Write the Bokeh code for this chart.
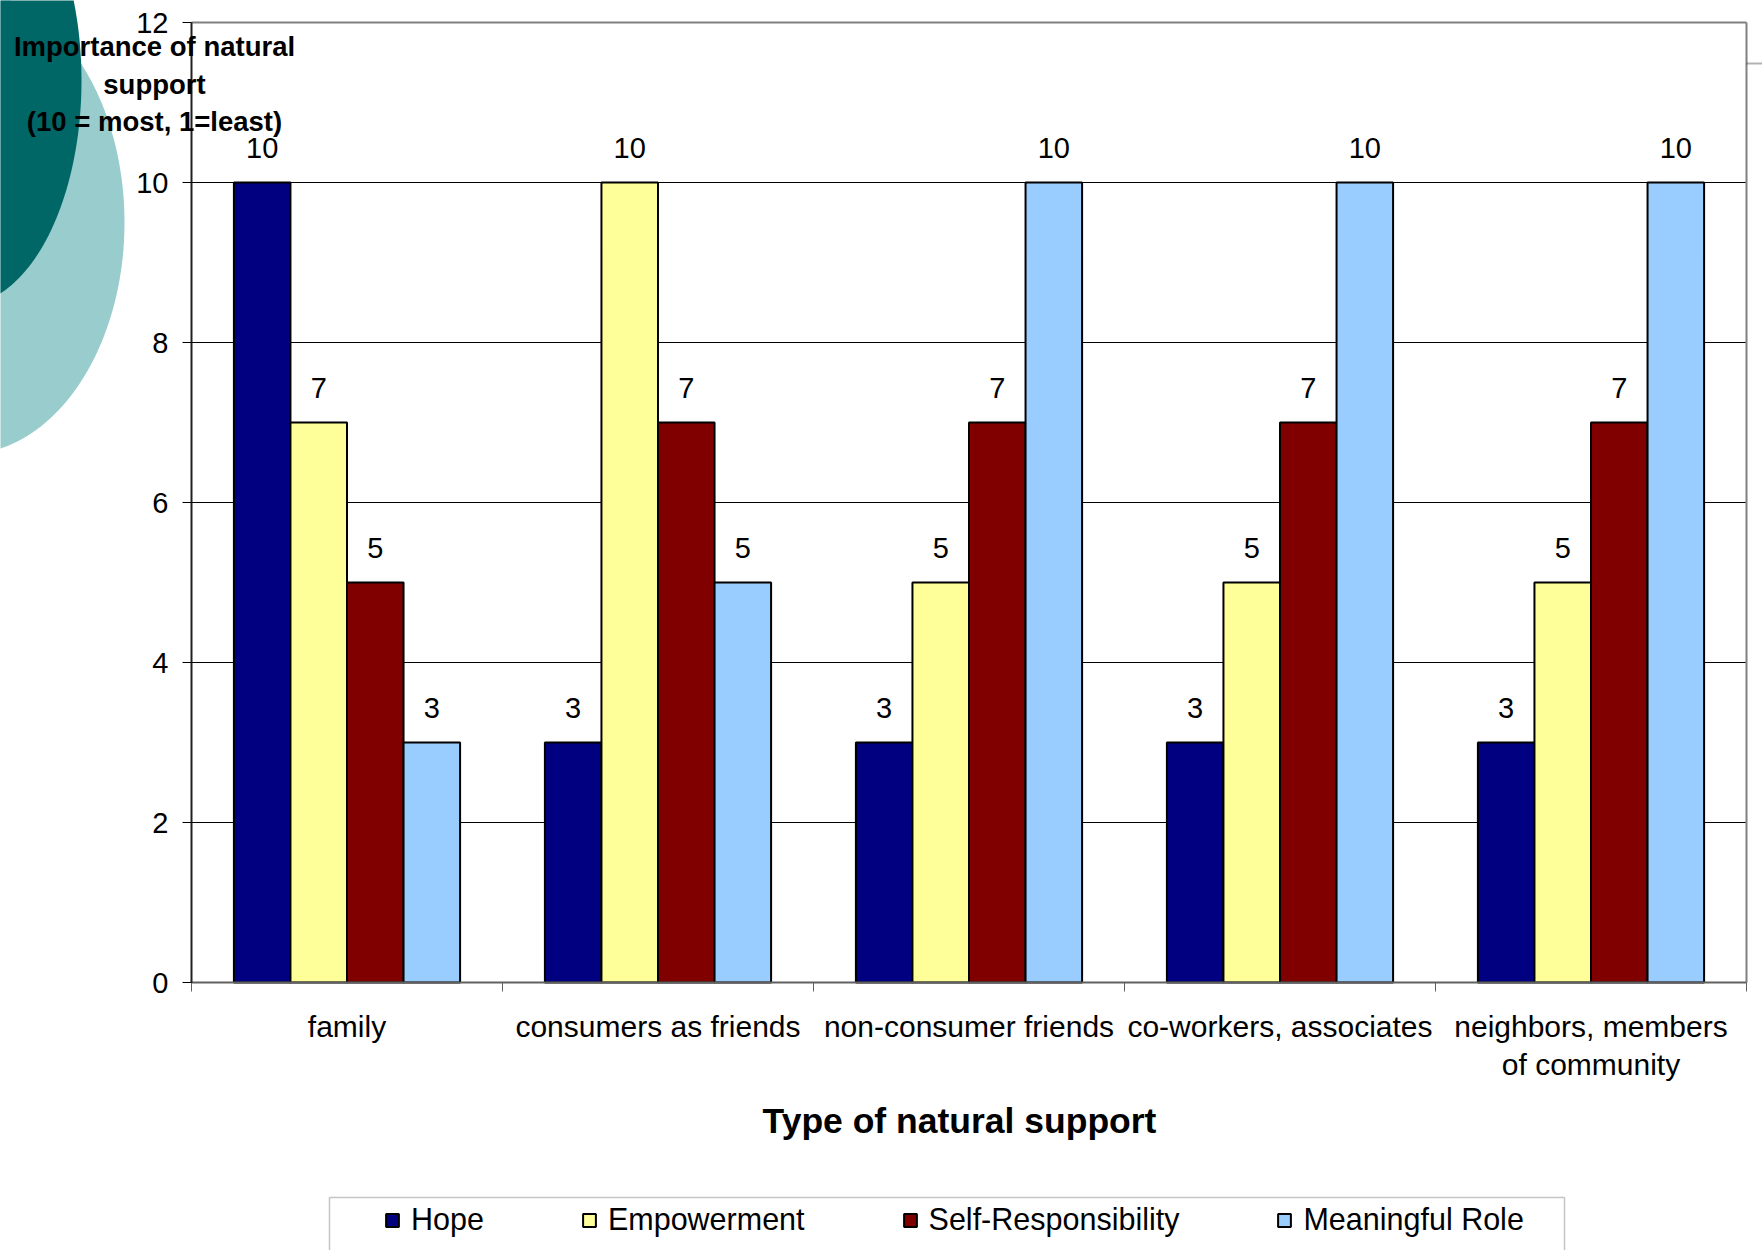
import numpy as np
from bokeh.plotting import figure
from bokeh.models import (Range1d, FixedTicker, ColumnDataSource, Label, Legend,
                          LegendItem, PolyAnnotation)
from bokeh.transform import dodge
from bokeh.core.properties import value
from bokeh.embed import file_html
from bokeh.resources import INLINE

# ---------------- data ----------------
categories = ["family", "consumers as friends", "non-consumer friends",
              "co-workers, associates", "neighbors, members\nof community"]
series = ["Hope", "Empowerment", "Self-Responsibility", "Meaningful Role"]
hope = [10, 3, 3, 3, 3]
empowerment = [7, 10, 5, 5, 5]
self_responsibility = [5, 7, 7, 7, 7]
meaningful_role = [3, 5, 10, 10, 10]
y_ticks = [0, 2, 4, 6, 8, 10, 12]
colors = ["#000080", "#FFFF99", "#800000", "#99CCFF"]

FONT = "Liberation Sans"
W, H = 1762, 1250
L, R, T, B = 191, 16, 22, 268          # plot-area margins inside the canvas
n = len(categories)
YMAX = 12
PXU = (W - L - R) / n
PYU = (H - T - B) / YMAX

# frame covers the whole canvas; axes are pinned at x=0 / y=0
p = figure(width=W, height=H,
           x_range=Range1d(-L / PXU, n + R / PXU),
           y_range=Range1d(-B / PYU, YMAX + T / PYU),
           output_backend="svg", toolbar_location=None, title=None,
           min_border=0, min_border_left=0, min_border_right=0,
           min_border_top=0, min_border_bottom=0)
p.background_fill_color = "white"
p.border_fill_color = "white"
p.outline_line_color = None

def dx(px):
    return (np.asarray(px, dtype=float) - L) / PXU
def dy(py):
    return ((H - B) - np.asarray(py, dtype=float)) / PYU

# decorative ovals (slide background)
def oval(cx, cy, a, b, color):
    t = np.linspace(0, 2 * np.pi, 200)
    xs = dx(cx + a * np.cos(t)).tolist()
    ys = dy(cy + b * np.sin(t)).tolist()
    p.add_layout(PolyAnnotation(xs=xs, ys=ys, fill_color=color, fill_alpha=1,
                                line_color=None, level="underlay"))
oval(-36, 222, 160, 232, "#99CCCC")
oval(-39, 80, 120, 225, "#006666")

# ---------------- gridlines & plot-area border ----------------
grid_y = [t for t in y_ticks if 0 < t < YMAX]
p.segment(x0=[0] * len(grid_y), x1=[n] * len(grid_y), y0=grid_y, y1=grid_y,
          line_color="black", line_width=1)
p.segment(x0=[0, n], x1=[n, n], y0=[YMAX, 0], y1=[YMAX, YMAX],
          line_color="#808080", line_width=2)

# ---------------- bars ----------------
x_centers = [i + 0.5 for i in range(n)]
data = dict(x=x_centers)
values = [hope, empowerment, self_responsibility, meaningful_role]
for s, v in zip(series, values):
    data[s] = v
    data[s + "_lbl"] = [str(k) for k in v]
src = ColumnDataSource(data)

bw = 1 / 5.5
offsets = [-1.5 * bw, -0.5 * bw, 0.5 * bw, 1.5 * bw]
renderers = []
for s, c, off in zip(series, colors, offsets):
    r = p.vbar(x=dodge("x", off, range=p.x_range), top=s, width=bw, source=src,
               fill_color=c, line_color="black", line_width=2)
    renderers.append(r)
    p.text(x=dodge("x", off, range=p.x_range), y=s, text=s + "_lbl", source=src,
           text_align="center", text_baseline="bottom", y_offset=-25,
           text_font=value(FONT), text_font_size="29px", text_color="black")

# ---------------- axes ----------------
xa = p.xaxis[0]
xa.fixed_location = 0
xa.bounds = (0, n)
xa.ticker = FixedTicker(ticks=x_centers, minor_ticks=list(range(n + 1)))
xa.major_label_overrides = {x: c for x, c in zip(x_centers, categories)}
xa.major_tick_out = 0
xa.major_tick_in = 0
xa.minor_tick_out = 9
xa.minor_tick_in = 0
xa.minor_tick_line_color = "#606060"
xa.axis_line_color = "#606060"
xa.axis_line_width = 2
xa.major_label_standoff = 18
xa.major_label_text_font = FONT
xa.major_label_text_font_size = "30px"
xa.major_label_text_color = "black"
xa.major_label_text_line_height = 1.18

ya = p.yaxis[0]
ya.fixed_location = 0
ya.bounds = (0, YMAX)
ya.ticker = FixedTicker(ticks=y_ticks, minor_ticks=[])
ya.major_tick_out = 9
ya.major_tick_in = 0
ya.major_tick_line_color = "black"
ya.axis_line_color = "#202020"
ya.axis_line_width = 2
ya.major_label_standoff = 14
ya.major_label_text_font = FONT
ya.major_label_text_font_size = "29px"
ya.major_label_text_color = "black"

p.xgrid.visible = False
p.ygrid.visible = False

# ---------------- titles ----------------
ytitle = ["Importance of natural", "support", "(10 = most, 1=least)"]
for i, line in enumerate(ytitle):
    p.add_layout(Label(x=float(dx(154)), y=float(dy(46 + 37.5 * i)), text=line,
                       text_align="center", text_baseline="middle",
                       text_font=FONT, text_font_style="bold", text_font_size="27.5px",
                       text_color="black"))
p.add_layout(Label(x=float(dx(959)), y=float(dy(1120)), text="Type of natural support",
                   text_align="center", text_baseline="middle",
                   text_font=FONT, text_font_style="bold", text_font_size="35.5px",
                   text_color="black"))

# ---------------- legend ----------------
box_x = [329, 1564, 1564, 329]
box_y = [1197, 1197, 1265, 1265]
p.add_layout(PolyAnnotation(xs=dx(box_x).tolist(), ys=dy(box_y).tolist(),
                            fill_color="white", fill_alpha=1,
                            line_color="#404040", line_width=1.5))
# small stray line at the top right of the slide
p.add_layout(PolyAnnotation(xs=dx([1746, 1762]).tolist(), ys=dy([63, 63]).tolist(),
                            fill_alpha=0, line_color="black", line_width=2))

legend = Legend(items=[LegendItem(label=s, renderers=[r]) for s, r in zip(series, renderers)],
                orientation="horizontal", location=(375, 4), spacing=97,
                glyph_width=16, glyph_height=16, label_standoff=11,
                label_text_font=FONT, label_text_font_size="30.5px",
                label_text_color="black",
                padding=9, border_line_alpha=0, background_fill_alpha=0)
p.add_layout(legend)

open("out.html", "w").write(file_html(p, INLINE))
